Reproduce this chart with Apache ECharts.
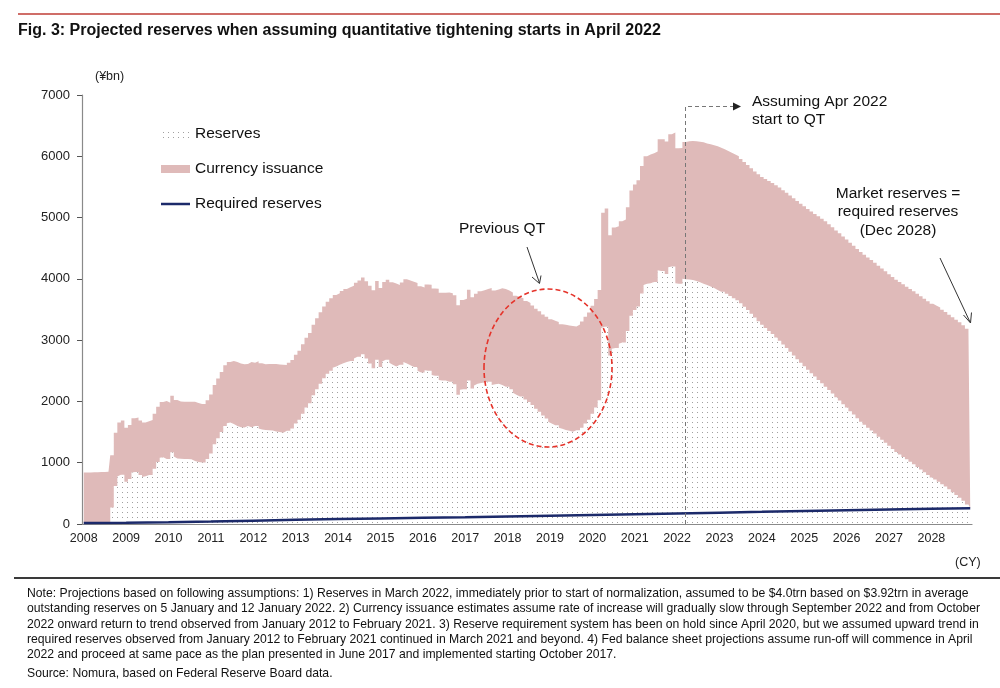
<!DOCTYPE html>
<html>
<head>
<meta charset="utf-8">
<script src="https://cdn.jsdelivr.net/npm/echarts@6/dist/echarts.min.js"></script>
<style>
html,body{margin:0;padding:0;background:#fff;}
#main{width:1000px;height:688px;}
</style>
</head>
<body>
<div id="main"></div>
<script>
// ---------------- DATA (¥bn, monthly, Jan 2008 – Dec 2028) ----------------
const years = [2008,2009,2010,2011,2012,2013,2014,2015,2016,2017,2018,2019,2020,2021,2022,2023,2024,2025,2026,2027,2028];
const months = ['01','02','03','04','05','06','07','08','09','10','11','12'];

const reserves = [
  10,10,10,10,10,10,10,10,270,620,775,805,             // 2008
  690,735,840,850,800,765,780,800,900,1010,1080,1090,  // 2009
  1060,1170,1100,1070,1065,1060,1060,1055,1030,1010,1005,1060, // 2010
  1150,1300,1400,1500,1600,1645,1655,1630,1600,1580,1575,1600, // 2011
  1580,1600,1560,1540,1535,1530,1525,1510,1500,1490,1520,1560, // 2012
  1640,1700,1800,1900,1970,2100,2200,2290,2380,2450,2500,2550, // 2013
  2570,2600,2625,2645,2660,2700,2730,2770,2700,2620,2540,2680, // 2014
  2560,2650,2680,2630,2600,2570,2600,2645,2620,2590,2560,2500, // 2015
  2470,2510,2500,2430,2420,2350,2340,2340,2320,2280,2110,2190, // 2016
  2200,2340,2210,2260,2290,2300,2310,2320,2270,2280,2290,2270, // 2017
  2240,2200,2140,2110,2080,2030,1990,1940,1880,1830,1770,1720, // 2018
  1670,1640,1610,1570,1555,1535,1520,1505,1530,1570,1640,1700, // 2019
  1800,1900,2020,3200,3220,2750,2860,2870,2940,2960,3150,3400, // 2020
  3490,3550,3760,3900,3920,3930,3950,4140,4130,4080,4190,4200, // 2021
  3930,3920,4000,3995,3990,3980,3965,3945,3920,3900,3875,3850, // 2022
  3820,3790,3755,3720,3685,3650,3600,3545,3490,3430,3370,3310, // 2023
  3250,3200,3150,3100,3045,2990,2930,2870,2810,2750,2690,2630, // 2024
  2575,2515,2460,2405,2350,2295,2240,2185,2130,2070,2015,1955, // 2025
  1900,1840,1785,1725,1670,1620,1570,1525,1475,1425,1375,1325, // 2026
  1275,1225,1175,1135,1095,1055,1015,975,930,890,845,800,      // 2027
  760,725,690,650,610,565,520,475,430,380,320,260              // 2028
];

const currency = [
  830,830,832,834,836,838,840,842,850,870,880,885,             // 2008
  880,882,885,888,890,892,895,898,900,905,910,915,             // 2009
  920,922,925,928,930,933,936,940,944,948,952,958,             // 2010
  962,968,975,982,990,998,1005,1012,1020,1028,1035,1042,       // 2011
  1050,1056,1062,1068,1074,1080,1086,1092,1098,1104,1110,1116, // 2012
  1122,1128,1134,1140,1146,1152,1158,1164,1170,1176,1182,1188, // 2013
  1195,1203,1211,1219,1227,1235,1243,1251,1259,1267,1275,1283, // 2014
  1291,1299,1307,1315,1323,1331,1339,1347,1355,1363,1371,1380, // 2015
  1390,1397,1404,1411,1418,1425,1432,1439,1446,1453,1460,1467, // 2016
  1475,1483,1491,1499,1507,1515,1523,1531,1539,1547,1555,1563, // 2017
  1570,1578,1586,1594,1602,1610,1618,1626,1634,1642,1650,1660, // 2018
  1670,1677,1684,1691,1698,1705,1712,1719,1726,1733,1740,1750, // 2019
  1760,1770,1800,1880,1930,1960,1980,1990,2000,2010,2020,2040, // 2020
  2050,2060,2080,2100,2110,2120,2130,2140,2150,2160,2170,2190, // 2021
  2200,2215,2235,2250,2258,2266,2274,2282,2290,2298,2306,2313, // 2022
  2320,2326,2332,2338,2344,2350,2356,2362,2368,2374,2380,2397, // 2023
  2414,2431,2448,2465,2482,2499,2516,2533,2550,2565,2580,2595, // 2024
  2610,2625,2640,2655,2670,2685,2700,2707,2714,2721,2728,2735, // 2025
  2742,2749,2756,2763,2770,2774,2778,2782,2786,2790,2794,2798, // 2026
  2802,2806,2810,2813,2815,2818,2820,2823,2825,2828,2830,2833, // 2027
  2835,2838,2841,2844,2848,2851,2854,2857,2861,2864,2867,2870  // 2028
];

const requiredDates = ['2008-01','2009-01','2010-01','2011-01','2012-01','2013-01','2014-01','2015-01','2016-01','2017-01','2018-01','2019-01','2020-01','2021-01','2022-01','2023-01','2024-01','2025-01','2026-01','2027-01','2028-01','2028-12'];
const requiredReserves = [15,22,30,40,55,68,80,90,100,110,122,133,145,158,172,185,198,212,225,238,250,258];

const yTicks = [0,1000,2000,3000,4000,5000,6000,7000];

// ---------------- BUILD ----------------
const categories = [];
years.forEach(y => months.forEach(m => categories.push(y + '-' + m)));
const requiredData = categories.map(() => null);
requiredDates.forEach((d, i) => { requiredData[categories.indexOf(d)] = requiredReserves[i]; });

function makeDots() {
  const c = document.createElement('canvas');
  c.width = 5; c.height = 5;
  const g = c.getContext('2d');
  g.fillStyle = '#ffffff'; g.fillRect(0, 0, 5, 5);
  g.fillStyle = '#a0a0a0'; g.fillRect(2, 2, 1, 1);
  return { image: c, repeat: 'repeat' };
}
const dots = makeDots();
const PINK = '#dfbab9';
const NAVY = '#1c2a6a';
const FONT = "'Liberation Sans', Arial, Helvetica, sans-serif";
const NOTE_FONT = "12.2px 'Liberation Sans', Arial, sans-serif";

const chart = echarts.init(document.getElementById('main'), null, { renderer: 'canvas' });

const noteLines = [
  'Note: Projections based on following assumptions: 1) Reserves in March 2022, immediately prior to start of normalization, assumed to be $4.0trn based on $3.92trn in average',
  'outstanding reserves on 5 January and 12 January 2022. 2) Currency issuance estimates assume rate of increase will gradually slow through September 2022 and from October',
  '2022 onward return to trend observed from January 2012 to February 2021. 3) Reserve requirement system has been on hold since April 2020, but we assumed upward trend in',
  'required reserves observed from January 2012 to February 2021 continued in March 2021 and beyond. 4) Fed balance sheet projections assume run-off will commence in April',
  '2022 and proceed at same pace as the plan presented in June 2017 and implemented starting October 2017.'
];

chart.setOption({
  animation: false,
  backgroundColor: '#ffffff',
  textStyle: { fontFamily: FONT },
  title: {
    text: 'Fig. 3: Projected reserves when assuming quantitative tightening starts in April 2022',
    left: 13, top: 18,
    textStyle: { fontFamily: FONT, fontWeight: 'bold', fontSize: 16, color: '#111' }
  },
  grid: { left: 82, right: 28, top: 95, bottom: 164, containLabel: false },
  legend: {
    orient: 'vertical', left: 156, top: 121,
    itemWidth: 29, itemHeight: 8, itemGap: 19,
    textStyle: { fontSize: 15.5, color: '#111', fontFamily: FONT },
    data: [
      { name: 'Reserves', icon: 'rect', itemStyle: { color: dots } },
      { name: 'Currency issuance', icon: 'rect' },
      { name: 'Required reserves', icon: 'path://M0,0H29V2.5H0Z', itemStyle: { color: NAVY } }
    ],
    selectedMode: false
  },
  xAxis: {
    type: 'category', data: categories, boundaryGap: true,
    axisLine: { lineStyle: { color: '#8a8a8a', width: 1.2 } },
    axisTick: { interval: (i) => i % 12 === 0, length: 5, lineStyle: { color: '#555' } },
    axisLabel: { interval: (i) => i % 12 === 0, formatter: v => v.slice(0, 4), fontSize: 12.5, color: '#222', margin: 8 },
    splitLine: { show: false }
  },
  yAxis: {
    type: 'value', min: yTicks[0], max: yTicks[yTicks.length - 1], interval: 1000,
    axisLine: { show: true, lineStyle: { color: '#8a8a8a', width: 1.2 } },
    axisTick: { show: true, length: 5, lineStyle: { color: '#555' } },
    axisLabel: { fontSize: 13, color: '#222', margin: 12, formatter: v => String(v) },
    splitLine: { show: false }
  },
  series: [
    {
      name: 'Reserves', type: 'line', stack: 'bs', step: 'middle', symbol: 'none',
      data: reserves,
      lineStyle: { width: 0, opacity: 0 },
      itemStyle: { color: dots },
      areaStyle: { color: dots, opacity: 1 },
      z: 2
    },
    {
      name: 'Currency issuance', type: 'line', stack: 'bs', step: 'middle', symbol: 'none',
      data: currency,
      lineStyle: { width: 0, opacity: 0 },
      itemStyle: { color: PINK },
      areaStyle: { color: PINK, opacity: 1 },
      z: 2
    },
    {
      name: 'Required reserves', type: 'line', symbol: 'none', connectNulls: true,
      data: requiredData,
      lineStyle: { color: NAVY, width: 2.5 },
      itemStyle: { color: NAVY },
      z: 5
    }
  ],
  graphic: [
    { type: 'line', shape: { x1: 18, y1: 14, x2: 1000, y2: 14 }, style: { stroke: '#cf6d68', lineWidth: 2 } },
    { type: 'line', shape: { x1: 14, y1: 578, x2: 1000, y2: 578 }, style: { stroke: '#3a3a3a', lineWidth: 2 } },
    { type: 'text', left: 95, top: 70, style: { text: '(¥bn)', font: '12.5px ' + FONT, fill: '#222' } },
    { type: 'text', left: 955, top: 556, style: { text: '(CY)', font: '12.5px ' + FONT, fill: '#222' } },
    { type: 'text', left: 459, top: 221, style: { text: 'Previous QT', font: '15.5px ' + FONT, fill: '#111' } },
    { type: 'line', shape: { x1: 527, y1: 247, x2: 539.5, y2: 283 }, style: { stroke: '#333', lineWidth: 1 } },
    { type: 'polyline', shape: { points: [[532, 277], [539.5, 283.5], [541, 275.5]] }, style: { stroke: '#333', lineWidth: 1, fill: null } },
    { type: 'ellipse', shape: { cx: 548, cy: 368, rx: 64, ry: 79 }, style: { stroke: '#e5332a', lineWidth: 1.6, lineDash: [5, 3], fill: null }, z: 10 },
    { type: 'polyline', shape: { points: [[685.5, 524], [685.5, 106.5], [733, 106.5]] }, style: { stroke: '#777', lineWidth: 1, lineDash: [4, 3], fill: null }, z: 10 },
    { type: 'polygon', shape: { points: [[733, 102.5], [741, 106.5], [733, 110.5]] }, style: { fill: '#222' }, z: 10 },
    { type: 'text', left: 752, top: 93, style: { text: 'Assuming Apr 2022\nstart to QT', font: '15.5px ' + FONT, lineHeight: 18, fill: '#111' } },
    { type: 'text', x: 898, y: 184, style: { text: 'Market reserves =\nrequired reserves\n(Dec 2028)', font: '15.5px ' + FONT, lineHeight: 18.5, fill: '#111', align: 'center', verticalAlign: 'top' } },
    { type: 'line', shape: { x1: 940, y1: 258, x2: 970, y2: 322 }, style: { stroke: '#333', lineWidth: 1 } },
    { type: 'polyline', shape: { points: [[963.5, 315], [970.5, 323], [971.5, 312.5]] }, style: { stroke: '#333', lineWidth: 1, fill: null } },
    { type: 'text', left: 27, top: 586, style: { text: noteLines.join('\n'), font: NOTE_FONT, lineHeight: 15.3, fill: '#111' } },
    { type: 'text', left: 27, top: 668, style: { text: 'Source: Nomura, based on Federal Reserve Board data.', font: NOTE_FONT, fill: '#111' } }
  ]
});
</script>
</body>
</html>
